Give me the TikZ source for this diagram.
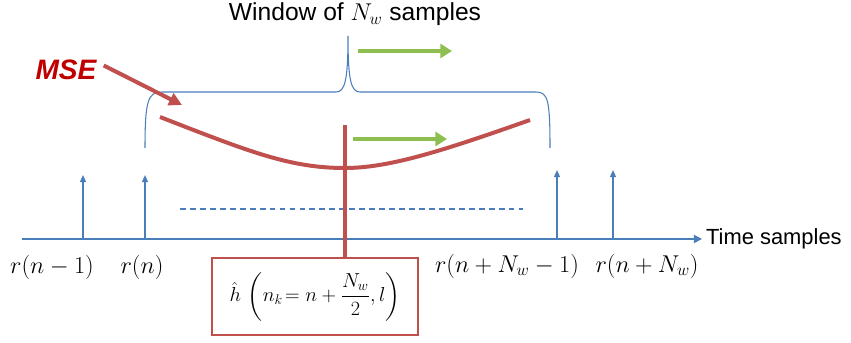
\documentclass[tikz,border=0pt]{standalone}
\usepackage{amsmath}
\usepackage[no-math]{fontspec}
\setmainfont{Liberation Sans}
\usetikzlibrary{arrows.meta,positioning}
\definecolor{sigblue}{RGB}{74,126,187}
\definecolor{msered}{RGB}{192,80,77}
\definecolor{msetext}{RGB}{192,0,0}
\definecolor{movegreen}{RGB}{140,190,80}
\begin{document}
\begin{tikzpicture}[x=0.03cm, y=-0.03cm, >=Latex,
  samplestem/.style={sigblue, line width=1.3pt, -{Triangle[length=6pt,width=5pt]}},
  timeaxis/.style={sigblue, line width=1.4pt, -{Triangle[length=7pt,width=7pt]}},
  mathlab/.style={font=\fontsize{21}{25}\selectfont},
  movearrow/.style={movegreen, line width=4pt, -{Triangle[length=10pt,width=12pt]}},
  msecurve/.style={msered, line width=3.4pt}]
  \useasboundingbox (0,0) rectangle (851,343);
  % time axis
  \coordinate (t0) at (22,239);
  \node[anchor=west, font=\fontsize{18.7}{22}\selectfont] (time) at (702,239) {Time samples};
  \draw[timeaxis] (t0) -- (time.west);
  % received samples
  \foreach \i/\x/\ytop in {1/83/175, 2/145/175, 3/557/170, 4/613/170} {
    \coordinate (base\i) at (\x,239);
    \coordinate (top\i) at (\x,\ytop);
    \draw[samplestem] (base\i) -- (top\i);
  }
  \node[mathlab] (lab1) at (52,267) {$r(n-1)$};
  \node[mathlab] (lab2) at (142,267) {$r(n)$};
  \node[mathlab] (lab3) at (507,266) {$r(n+N_w-1)$};
  \node[mathlab] (lab4) at (647,266) {$r(n+N_w)$};
  \coordinate (dotsl) at (180,209);
  \coordinate (dotsr) at (523,209);
  \draw[sigblue, line width=0.9pt, dash pattern=on 5pt off 3.5pt] (dotsl) -- (dotsr);
  % window brace
  \node[font=\fontsize{21}{25}\selectfont] (title) at (355,14) {Window of $N_w$ samples};
  \coordinate (brl) at (145,148);
  \coordinate (peak) at (348,36);
  \coordinate (brr) at (550,148);
  \draw[sigblue, line width=0.9pt] (brl) .. controls (145,100) and (148,92) .. (162,92)
    -- (336,92) .. controls (345,92) and (348,80) .. (peak)
    .. controls (348,80) and (351,92) .. (360,92)
    -- (536,92) .. controls (548,92) and (550,100) .. (brr);
  % window shift
  \coordinate (g1a) at (358,51);
  \coordinate (g1b) at (452,51);
  \coordinate (g2a) at (353,139);
  \coordinate (g2b) at (447,139);
  \draw[movearrow] (g1a) -- (g1b);
  \draw[movearrow] (g2a) -- (g2b);
  % MSE curve and estimate
  \coordinate (cl) at (160,117);
  \coordinate (cmin) at (345,168);
  \coordinate (cr) at (530,120);
  \coordinate (ctop) at (345,125);
  \draw[msecurve] (cl) .. controls (250,152) and (290,168) .. (cmin)
    .. controls (390,168) and (445,150) .. (cr);
  \node[draw=msered, line width=1.6pt, minimum width=6.18cm, minimum height=2.31cm,
    font=\fontsize{18.5}{22}\selectfont] (hhat) at (315,296.5)
    {$\hat{h}\,\left(n_k\!= n+\dfrac{N_w}{2},l\right)$};
  \draw[msecurve] (ctop) -- (ctop |- hhat.north);
  \node[text=msetext, font=\bfseries\itshape\fontsize{24}{28}\selectfont] (mse) at (66,70) {MSE};
  \coordinate (msetip) at (182,105);
  \draw[msecurve, -{Triangle[length=11pt,width=11pt]}, shorten <=3pt] (mse.10) -- (msetip);
\end{tikzpicture}
\end{document}
